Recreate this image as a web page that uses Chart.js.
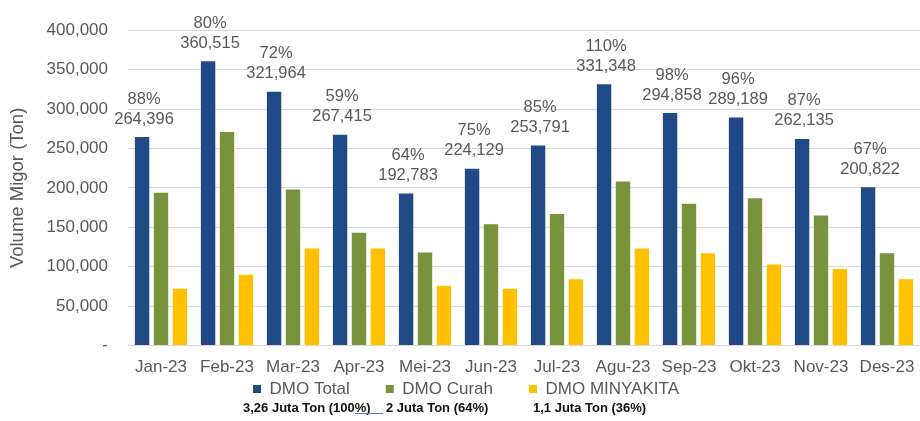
<!DOCTYPE html>
<html>
<head>
<meta charset="utf-8">
<script src="https://cdn.jsdelivr.net/npm/chart.js@4"></script>
<style>
    body { margin: 0; background: #fff; }
    #wrap { position: relative; width: 920px; height: 421px; }
    #note { position: absolute; left: 0; top: 400px; width: 920px; height: 18px;
        font-family: "Liberation Sans", Arial, sans-serif;
        font-size: 13px; font-weight: bold; color: #111; }
    #note span { position: absolute; top: 0; white-space: nowrap; }
    #link { position: absolute; left: 355px; top: 413px; width: 28px; border-top: 1px solid #4a7bd0; }
</style>
</head>
<body>
<div id="wrap">
    <canvas id="grafik" width="920" height="421"></canvas>
    <div id="note">
        <span style="left:243px">3,26 Juta Ton (100%)</span>
        <span style="left:386px">2 Juta Ton (64%)</span>
        <span style="left:533px">1,1 Juta Ton (36%)</span>
    </div>
    <div id="link"></div>
</div>
<script>
const bulan = ["Jan-23", "Feb-23", "Mar-23", "Apr-23", "Mei-23", "Jun-23",
    "Jul-23", "Agu-23", "Sep-23", "Okt-23", "Nov-23", "Des-23"];
const dmoTotal = [264396, 360515, 321964, 267415, 192783, 224129, 253791, 331348, 294858, 289189, 262135, 200822];
const dmoCurah = [194000, 271000, 198000, 143000, 118000, 154000, 167000, 208000, 180000, 187000, 165000, 117000];
const dmoMinyakita = [72000, 90000, 123000, 123000, 76000, 72000, 84000, 123000, 117000, 103000, 97000, 84000];
const persen = [88, 80, 72, 59, 64, 75, 85, 110, 98, 96, 87, 67];

const font = "'Liberation Sans', Arial, sans-serif";
const abu = "#595959";

// label dua baris di atas batang DMO Total
const labelTotal = {
    id: "labelTotal",
    afterDatasetsDraw(chart) {
        const ctx = chart.ctx;
        const meta = chart.getDatasetMeta(0);
        ctx.save();
        ctx.font = "16.5px " + font;
        ctx.fillStyle = abu;
        ctx.textAlign = "center";
        ctx.textBaseline = "middle";
        meta.data.forEach(function (bar, i) {
            ctx.fillText(dmoTotal[i].toLocaleString("en-US"), bar.x + 2, bar.y - 18);
            ctx.fillText(persen[i] + "%", bar.x + 2, bar.y - 38);
        });
        ctx.restore();
    },
};

// legenda ditarik naik (hanya tepi atas) supaya jarak antar item tetap lebar
const geserLegenda = {
    id: "geserLegenda",
    afterLayout(chart) {
        const lg = chart.legend;
        lg.top -= 37.5;
        lg.height = lg.bottom - lg.top;
        lg.left += 6;
        lg.right += 6;
    },
};

new Chart(document.getElementById("grafik"), {
    type: "bar",
    data: {
        labels: bulan,
        datasets: [
            { label: "DMO Total", data: dmoTotal, backgroundColor: "#1f4a86" },
            { label: "DMO Curah", data: dmoCurah, backgroundColor: "#77933c" },
            { label: "DMO MINYAKITA", data: dmoMinyakita, backgroundColor: "#ffc000" },
        ],
    },
    options: {
        responsive: false,
        animation: false,
        datasets: {
            bar: { categoryPercentage: 0.86, barPercentage: 0.76 },
        },
        layout: { padding: { top: 26, right: 0, bottom: 12, left: 0 } },
        scales: {
            x: {
                grid: { display: false },
                border: { color: "#d9d9d9" },
                ticks: {
                    font: { family: font, size: 17 },
                    color: abu,
                    padding: 4,
                    maxRotation: 0,
                    autoSkip: false,
                },
            },
            y: {
                min: 0,
                max: 400000,
                afterFit: function (scale) { scale.width = 128; },
                grid: { color: "#d9d9d9", drawTicks: false },
                border: { display: false },
                title: {
                    display: true,
                    text: "Volume Migor (Ton)",
                    font: { family: font, size: 18.5 },
                    color: abu,
                    padding: { top: 7, bottom: 0 },
                },
                ticks: {
                    stepSize: 50000,
                    font: { family: font, size: 17 },
                    color: abu,
                    padding: 20,
                    callback: function (value) {
                        return value === 0 ? "-" : value.toLocaleString("en-US");
                    },
                },
            },
        },
        plugins: {
            legend: {
                position: "bottom",
                maxHeight: 27,
                labels: {
                    font: { family: font, size: 17 },
                    color: abu,
                    boxWidth: 8,
                    boxHeight: 8,
                    padding: 36,
                },
            },
            tooltip: { enabled: false },
        },
    },
    plugins: [labelTotal, geserLegenda],
});
</script>
</body>
</html>
